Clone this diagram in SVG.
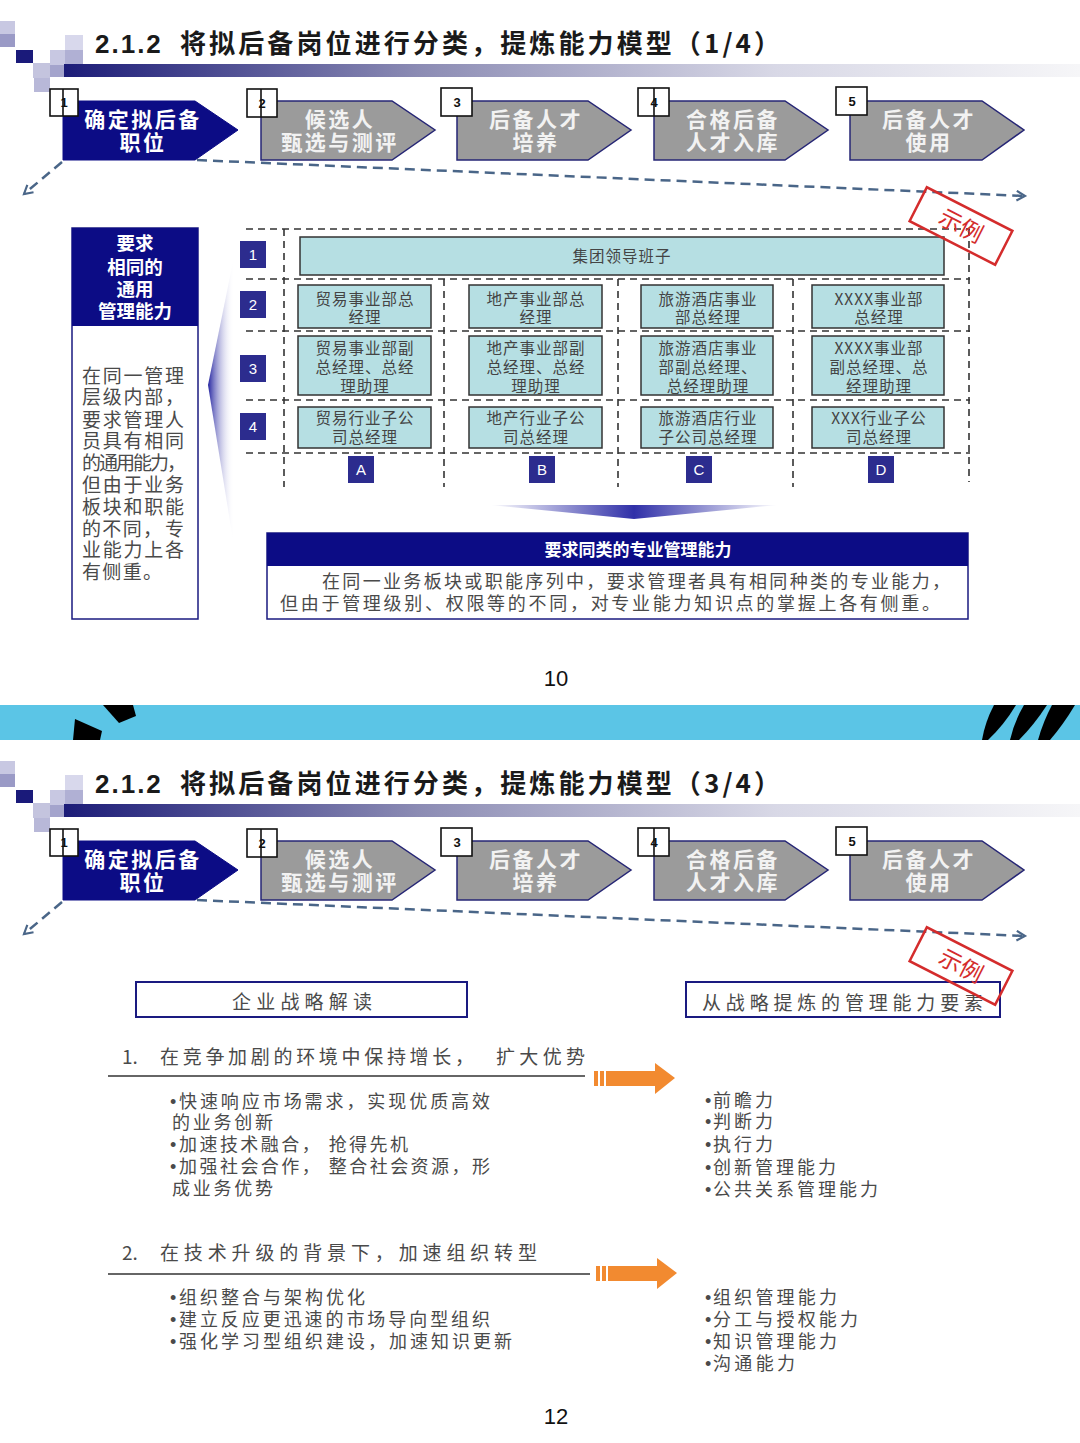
<svg xmlns="http://www.w3.org/2000/svg" width="1080" height="1443" viewBox="0 0 1080 1443">
<style>
.title{font-family:"Noto Sans CJK SC",sans-serif;font-weight:bold;font-size:26px;fill:#1a1a1a}
.title-n{font-family:"Liberation Sans",Arial,sans-serif;font-weight:bold;font-size:26px;fill:#1a1a1a;letter-spacing:2px}
.chev-n{fill:#0c0c85;stroke:#0c0c85;stroke-width:1}
.chev-g{fill:#9b9b9b;stroke:#262675;stroke-width:1.5}
.chev-t{font-family:"Noto Sans CJK SC",sans-serif;font-weight:bold;font-size:21px;fill:#ffffff;text-anchor:middle;letter-spacing:2.5px}
.chev-tg{font-family:"Noto Sans CJK SC",sans-serif;font-weight:bold;font-size:21px;fill:#f2f2f2;text-anchor:middle;letter-spacing:2.5px}
.nbox{fill:#ffffff;stroke:#111;stroke-width:1.6}
.nline{stroke:#111;stroke-width:1.6}
.ntxt{font-family:"Liberation Sans",Arial,sans-serif;font-weight:bold;font-size:13px;fill:#111;text-anchor:middle}
.dash{fill:none;stroke:#4a6688;stroke-width:2.5;stroke-dasharray:10 6}
.stamp-r{fill:none;stroke:#d42c2c;stroke-width:2.5}
.stamp-t{font-family:"Noto Sans CJK SC",sans-serif;font-size:23px;fill:#d42c2c;text-anchor:middle}
.grid{fill:none;stroke:#333;stroke-width:1.6;stroke-dasharray:7 5}
.cell{fill:#b6dfe3;stroke:#333;stroke-width:1.5}
.ct{font-family:"Noto Sans CJK SC",sans-serif;font-size:15.5px;fill:#444;text-anchor:middle;letter-spacing:1px}
.sq{fill:#2c2c8e}
.sqt{font-family:"Liberation Sans",Arial,sans-serif;font-size:15px;fill:#fff;text-anchor:middle}
.navy{fill:#0c0c85}
.hdr-t{font-family:"Noto Sans CJK SC",sans-serif;font-weight:bold;font-size:17px;fill:#fff;text-anchor:middle}
.hdr-l{font-family:"Noto Sans CJK SC",sans-serif;font-weight:bold;font-size:18.5px;fill:#fff;text-anchor:middle}
.body{font-family:"Noto Sans CJK SC",sans-serif;font-size:18px;fill:#4a4a4a}
.body19{font-family:"Noto Sans CJK SC",sans-serif;font-size:19px;fill:#4a4a4a}
.bul{font-family:"Liberation Sans",Arial,sans-serif;font-size:18px}
.pnum{font-family:"Liberation Sans",Arial,sans-serif;font-size:22px;fill:#111;text-anchor:middle}
.obox{fill:#fff;stroke:#1a1a80;stroke-width:2}
.orange{fill:#f28a30}
</style>
<defs>
<linearGradient id="barGrad" x1="0" y1="0" x2="1" y2="0">
<stop offset="0" stop-color="#1c1c78"/>
<stop offset="0.35" stop-color="#8c8cb4"/>
<stop offset="0.7" stop-color="#d8d8e6"/>
<stop offset="1" stop-color="#f6f6f8"/>
</linearGradient>
<linearGradient id="wedgeL" gradientUnits="userSpaceOnUse" x1="208" y1="0" x2="234" y2="0">
<stop offset="0" stop-color="#2424a0"/>
<stop offset="1" stop-color="#ffffff" stop-opacity="0"/>
</linearGradient>
<linearGradient id="wedgeD" x1="0" y1="0" x2="1" y2="0">
<stop offset="0" stop-color="#ffffff"/>
<stop offset="0.5" stop-color="#3030a8"/>
<stop offset="1" stop-color="#ffffff"/>
</linearGradient>
<marker id="openArrow" viewBox="0 0 10 10" refX="8" refY="5" markerWidth="12" markerHeight="12" markerUnits="userSpaceOnUse" orient="auto">
<path d="M1,1 L8,5 L1,9" fill="none" stroke="#4a6688" stroke-width="1.8"/>
</marker>
</defs>
<rect width="1080" height="1443" fill="#ffffff"/>

<!-- ===== SLIDE 1 HEADER ===== -->
<g id="s1-header">
<g id="s1-deco">
<rect x="0" y="21" width="15" height="13" fill="#c8c8e2"/>
<rect x="0" y="34" width="15" height="13" fill="#9a9ac6"/>
<rect x="16" y="50" width="17" height="13" fill="#1a1a7a"/>
<rect x="33" y="63" width="17" height="15" fill="#c4c4de"/>
<rect x="34" y="78" width="16" height="14" fill="#b8b8d8"/>
<rect x="50" y="50" width="15" height="15" fill="#c8c8e2"/>
<rect x="50" y="65" width="15" height="12" fill="#a4a4cc"/>
<rect x="65" y="35" width="18" height="15" fill="#d8d8ec"/>
<rect x="65" y="50" width="18" height="14" fill="#b0b0d4"/>
<rect x="64" y="64" width="1016" height="13" fill="url(#barGrad)"/>
</g>
<text class="title-n" x="95" y="53">2.1.2</text>
<text class="title" x="180" y="53" textLength="600" lengthAdjust="spacing">将拟后备岗位进行分类，提炼能力模型（1/4）</text>
<g id="s1-step1"><path class="chev-n" d="M63,101 H195 L238,130 L195,160 H63 Z"/>
<text class="chev-t"><tspan x="143" y="127">确定拟后备</tspan><tspan x="143" y="150">职位</tspan></text></g>
<g id="s1-step2"><path class="chev-g" d="M261,101 H392 L435,130 L392,160 H261 Z"/>
<text class="chev-tg"><tspan x="340" y="127">候选人</tspan><tspan x="340" y="150">甄选与测评</tspan></text></g>
<g id="s1-step3"><path class="chev-g" d="M457,101 H588 L631,130 L588,160 H457 Z"/>
<text class="chev-tg"><tspan x="536" y="127">后备人才</tspan><tspan x="536" y="150">培养</tspan></text></g>
<g id="s1-step4"><path class="chev-g" d="M654,101 H785 L828,130 L785,160 H654 Z"/>
<text class="chev-tg"><tspan x="733" y="127">合格后备</tspan><tspan x="733" y="150">人才入库</tspan></text></g>
<g id="s1-step5"><path class="chev-g" d="M850,101 H982 L1024,130 L982,160 H850 Z"/>
<text class="chev-tg"><tspan x="929" y="127">后备人才</tspan><tspan x="929" y="150">使用</tspan></text></g>
<g id="s1-num1"><rect class="nbox" x="50" y="89" width="28" height="27"/><line class="nline" x1="63" y1="89" x2="63" y2="116"/><text class="ntxt" x="64" y="107">1</text></g>
<g id="s1-num2"><rect class="nbox" x="247" y="89" width="30" height="28"/><line class="nline" x1="261" y1="89" x2="261" y2="117"/><text class="ntxt" x="262" y="108">2</text></g>
<g id="s1-num3"><rect class="nbox" x="441" y="88" width="31" height="28"/><text class="ntxt" x="457" y="107">3</text></g>
<g id="s1-num4"><rect class="nbox" x="638" y="88" width="31" height="28"/><line class="nline" x1="654" y1="88" x2="654" y2="116"/><text class="ntxt" x="654" y="107">4</text></g>
<g id="s1-num5"><rect class="nbox" x="836" y="87" width="31" height="28"/><text class="ntxt" x="852" y="106">5</text></g>
</g>
<g id="s1-connectors">
<path class="dash" d="M197,160 L1025,196" marker-end="url(#openArrow)"/>
<path class="dash" d="M62,162 L24,194" marker-end="url(#openArrow)"/>
</g>

<!-- ===== SLIDE 1 BODY ===== -->
<g id="s1-leftbox">
<rect x="72" y="228" width="126" height="391" fill="#fff" stroke="#1a1a80" stroke-width="1.5"/>
<rect class="navy" x="72" y="228" width="126" height="98"/>
<text class="hdr-l"><tspan x="135" y="250">要求</tspan><tspan x="135" y="274">相同的</tspan><tspan x="135" y="296">通用</tspan><tspan x="135" y="318">管理能力</tspan></text>
<text class="body19"><tspan x="82" y="383" textLength="102" lengthAdjust="spacing">在同一管理</tspan><tspan x="82" y="404" textLength="102" lengthAdjust="spacing">层级内部，</tspan><tspan x="82" y="427" textLength="102" lengthAdjust="spacing">要求管理人</tspan><tspan x="82" y="448" textLength="102" lengthAdjust="spacing">员具有相同</tspan><tspan x="82" y="470" textLength="104" lengthAdjust="spacing">的通用能力，</tspan><tspan x="82" y="492" textLength="102" lengthAdjust="spacing">但由于业务</tspan><tspan x="82" y="514" textLength="102" lengthAdjust="spacing">板块和职能</tspan><tspan x="82" y="536" textLength="80" lengthAdjust="spacing">的不同，</tspan><tspan x="165" y="536">专</tspan><tspan x="82" y="557" textLength="102" lengthAdjust="spacing">业能力上各</tspan><tspan x="82" y="579" textLength="80" lengthAdjust="spacing">有侧重。</tspan></text>
</g>
<polygon id="s1-wedge" points="233,262 208,385 233,540" fill="url(#wedgeL)"/>

<g id="s1-grid">
<line class="grid" x1="246" y1="229" x2="970" y2="229"/>
<line class="grid" x1="246" y1="279" x2="970" y2="279"/>
<line class="grid" x1="246" y1="331" x2="970" y2="331"/>
<line class="grid" x1="246" y1="400" x2="970" y2="400"/>
<line class="grid" x1="246" y1="453" x2="970" y2="453"/>
<line class="grid" x1="284" y1="229" x2="284" y2="487"/>
<line class="grid" x1="444" y1="279" x2="444" y2="487"/>
<line class="grid" x1="618" y1="279" x2="618" y2="487"/>
<line class="grid" x1="793" y1="279" x2="793" y2="487"/>
<line class="grid" x1="969" y1="229" x2="969" y2="482"/>
</g>
<g id="s1-rownums">
<g id="row1"><rect class="sq" x="240" y="241" width="26" height="27"/><text class="sqt" x="253" y="260">1</text></g>
<g id="row2"><rect class="sq" x="240" y="291" width="26" height="27"/><text class="sqt" x="253" y="310">2</text></g>
<g id="row3"><rect class="sq" x="240" y="355" width="26" height="27"/><text class="sqt" x="253" y="374">3</text></g>
<g id="row4"><rect class="sq" x="240" y="413" width="26" height="27"/><text class="sqt" x="253" y="432">4</text></g>
</g>
<g id="s1-colletters">
<g id="colA"><rect class="sq" x="348" y="456" width="26" height="27"/><text class="sqt" x="361" y="475">A</text></g>
<g id="colB"><rect class="sq" x="529" y="456" width="26" height="27"/><text class="sqt" x="542" y="475">B</text></g>
<g id="colC"><rect class="sq" x="686" y="456" width="26" height="27"/><text class="sqt" x="699" y="475">C</text></g>
<g id="colD"><rect class="sq" x="868" y="456" width="26" height="27"/><text class="sqt" x="881" y="475">D</text></g>
</g>
<g id="s1-leader"><rect class="cell" x="300" y="237" width="644" height="38"/><text class="ct" x="622" y="262">集团领导班子</text></g>
<g id="cellA2"><rect class="cell" x="298" y="285" width="133" height="43"/><text class="ct"><tspan x="365" y="305">贸易事业部总</tspan><tspan x="365" y="323">经理</tspan></text></g>
<g id="cellB2"><rect class="cell" x="469" y="285" width="133" height="43"/><text class="ct"><tspan x="536" y="305">地产事业部总</tspan><tspan x="536" y="323">经理</tspan></text></g>
<g id="cellC2"><rect class="cell" x="641" y="285" width="132" height="43"/><text class="ct"><tspan x="708" y="305">旅游酒店事业</tspan><tspan x="708" y="323">部总经理</tspan></text></g>
<g id="cellD2"><rect class="cell" x="812" y="285" width="132" height="43"/><text class="ct"><tspan x="879" y="305">XXXX事业部</tspan><tspan x="879" y="323">总经理</tspan></text></g>
<g id="cellA3"><rect class="cell" x="298" y="336" width="133" height="59"/><text class="ct"><tspan x="365" y="354">贸易事业部副</tspan><tspan x="365" y="373">总经理、总经</tspan><tspan x="365" y="392">理助理</tspan></text></g>
<g id="cellB3"><rect class="cell" x="469" y="336" width="133" height="59"/><text class="ct"><tspan x="536" y="354">地产事业部副</tspan><tspan x="536" y="373">总经理、总经</tspan><tspan x="536" y="392">理助理</tspan></text></g>
<g id="cellC3"><rect class="cell" x="641" y="336" width="132" height="59"/><text class="ct"><tspan x="708" y="354">旅游酒店事业</tspan><tspan x="708" y="373">部副总经理、</tspan><tspan x="708" y="392">总经理助理</tspan></text></g>
<g id="cellD3"><rect class="cell" x="812" y="336" width="132" height="59"/><text class="ct"><tspan x="879" y="354">XXXX事业部</tspan><tspan x="879" y="373">副总经理、总</tspan><tspan x="879" y="392">经理助理</tspan></text></g>
<g id="cellA4"><rect class="cell" x="298" y="407" width="133" height="41"/><text class="ct"><tspan x="365" y="424">贸易行业子公</tspan><tspan x="365" y="443">司总经理</tspan></text></g>
<g id="cellB4"><rect class="cell" x="469" y="407" width="133" height="41"/><text class="ct"><tspan x="536" y="424">地产行业子公</tspan><tspan x="536" y="443">司总经理</tspan></text></g>
<g id="cellC4"><rect class="cell" x="641" y="407" width="132" height="41"/><text class="ct"><tspan x="708" y="424">旅游酒店行业</tspan><tspan x="708" y="443">子公司总经理</tspan></text></g>
<g id="cellD4"><rect class="cell" x="812" y="407" width="132" height="41"/><text class="ct"><tspan x="879" y="424">XXX行业子公</tspan><tspan x="879" y="443">司总经理</tspan></text></g>

<g id="s1-stamp" transform="translate(961,226) rotate(27)">
<rect class="stamp-r" x="-48" y="-19" width="96" height="38"/>
<text class="stamp-t" x="0" y="8">示例</text>
</g>

<polygon id="s1-downwedge" points="490,505 778,505 634,519" fill="url(#wedgeD)"/>

<g id="s1-bottombox">
<rect x="267" y="533" width="701" height="86" fill="#fff" stroke="#1a1a80" stroke-width="1.5"/>
<rect class="navy" x="267" y="533" width="701" height="33"/>
<text class="hdr-t" x="638" y="556">要求同类的专业管理能力</text>
<text class="body"><tspan x="322" y="588" textLength="628" lengthAdjust="spacing">在同一业务板块或职能序列中，要求管理者具有相同种类的专业能力，</tspan><tspan x="280" y="610" textLength="660" lengthAdjust="spacing">但由于管理级别、权限等的不同，对专业能力知识点的掌握上各有侧重。</tspan></text>
</g>
<text class="pnum" x="556" y="686">10</text>

<!-- ===== DIVIDER BAND ===== -->
<g id="band">
<rect x="0" y="705" width="1080" height="35" fill="#5bc5e6"/>
<polygon points="103,705 133,705 136,716 119,723" fill="#000"/>
<polygon points="75,719 102,731 100,740 73,740" fill="#000"/>
<path d="M994,705 L1016,705 Q1004,725 988,740 L982,740 Q985,722 994,705 Z" fill="#000"/>
<path d="M1024,705 L1047,705 Q1034,725 1019,740 L1010,740 Q1014,722 1024,705 Z" fill="#000"/>
<path d="M1052,705 L1075,705 Q1063,725 1050,740 L1038,740 Q1043,722 1052,705 Z" fill="#000"/>
</g>

<!-- ===== SLIDE 2 HEADER ===== -->
<g id="s2-header" transform="translate(0,740)">
<g id="s2-deco">
<rect x="0" y="21" width="15" height="13" fill="#c8c8e2"/>
<rect x="0" y="34" width="15" height="13" fill="#9a9ac6"/>
<rect x="16" y="50" width="17" height="13" fill="#1a1a7a"/>
<rect x="33" y="63" width="17" height="15" fill="#c4c4de"/>
<rect x="34" y="78" width="16" height="14" fill="#b8b8d8"/>
<rect x="50" y="50" width="15" height="15" fill="#c8c8e2"/>
<rect x="50" y="65" width="15" height="12" fill="#a4a4cc"/>
<rect x="65" y="35" width="18" height="15" fill="#d8d8ec"/>
<rect x="65" y="50" width="18" height="14" fill="#b0b0d4"/>
<rect x="64" y="64" width="1016" height="13" fill="url(#barGrad)"/>
</g>
<text class="title-n" x="95" y="53">2.1.2</text>
<text class="title" x="180" y="53" textLength="600" lengthAdjust="spacing">将拟后备岗位进行分类，提炼能力模型（3/4）</text>
<g id="s2-step1"><path class="chev-n" d="M63,101 H195 L238,130 L195,160 H63 Z"/>
<text class="chev-t"><tspan x="143" y="127">确定拟后备</tspan><tspan x="143" y="150">职位</tspan></text></g>
<g id="s2-step2"><path class="chev-g" d="M261,101 H392 L435,130 L392,160 H261 Z"/>
<text class="chev-tg"><tspan x="340" y="127">候选人</tspan><tspan x="340" y="150">甄选与测评</tspan></text></g>
<g id="s2-step3"><path class="chev-g" d="M457,101 H588 L631,130 L588,160 H457 Z"/>
<text class="chev-tg"><tspan x="536" y="127">后备人才</tspan><tspan x="536" y="150">培养</tspan></text></g>
<g id="s2-step4"><path class="chev-g" d="M654,101 H785 L828,130 L785,160 H654 Z"/>
<text class="chev-tg"><tspan x="733" y="127">合格后备</tspan><tspan x="733" y="150">人才入库</tspan></text></g>
<g id="s2-step5"><path class="chev-g" d="M850,101 H982 L1024,130 L982,160 H850 Z"/>
<text class="chev-tg"><tspan x="929" y="127">后备人才</tspan><tspan x="929" y="150">使用</tspan></text></g>
<g id="s2-num1"><rect class="nbox" x="50" y="89" width="28" height="27"/><line class="nline" x1="63" y1="89" x2="63" y2="116"/><text class="ntxt" x="64" y="107">1</text></g>
<g id="s2-num2"><rect class="nbox" x="247" y="89" width="30" height="28"/><line class="nline" x1="261" y1="89" x2="261" y2="117"/><text class="ntxt" x="262" y="108">2</text></g>
<g id="s2-num3"><rect class="nbox" x="441" y="88" width="31" height="28"/><text class="ntxt" x="457" y="107">3</text></g>
<g id="s2-num4"><rect class="nbox" x="638" y="88" width="31" height="28"/><line class="nline" x1="654" y1="88" x2="654" y2="116"/><text class="ntxt" x="654" y="107">4</text></g>
<g id="s2-num5"><rect class="nbox" x="836" y="87" width="31" height="28"/><text class="ntxt" x="852" y="106">5</text></g>
</g>
<g id="s2-connectors" transform="translate(0,740)">
<path class="dash" d="M197,160 L1025,196" marker-end="url(#openArrow)"/>
<path class="dash" d="M62,162 L24,194" marker-end="url(#openArrow)"/>
</g>

<!-- ===== SLIDE 2 BODY ===== -->
<g id="s2-box-left"><rect class="obox" x="136" y="982" width="331" height="35"/>
<text class="body19" x="232" y="1009" textLength="140" lengthAdjust="spacing">企业战略解读</text></g>
<g id="s2-box-right"><rect class="obox" x="686" y="982" width="314" height="35"/>
<text class="body19" x="702" y="1010" textLength="281" lengthAdjust="spacing">从战略提炼的管理能力要素</text></g>
<g id="s2-stamp" transform="translate(961,966) rotate(27)">
<rect class="stamp-r" x="-48" y="-19" width="96" height="38"/>
<text class="stamp-t" x="0" y="8">示例</text>
</g>

<g id="s2-sec1">
<text class="body19"><tspan x="122" y="1064">1.</tspan><tspan x="160" y="1064" textLength="314" lengthAdjust="spacing">在竞争加剧的环境中保持增长，</tspan><tspan x="496" y="1064" textLength="89" lengthAdjust="spacing">扩大优势</tspan></text>
<line x1="108" y1="1076" x2="585" y2="1076" stroke="#333" stroke-width="1.5"/>
<text class="body"><tspan class="bul" x="170" y="1108">•</tspan><tspan x="179" y="1108" textLength="311" lengthAdjust="spacing">快速响应市场需求，实现优质高效</tspan><tspan x="172" y="1129" textLength="101" lengthAdjust="spacing">的业务创新</tspan><tspan class="bul" x="170" y="1151">•</tspan><tspan x="179" y="1151" textLength="229" lengthAdjust="spacing">加速技术融合，  抢得先机</tspan><tspan class="bul" x="170" y="1173">•</tspan><tspan x="179" y="1173" textLength="311" lengthAdjust="spacing">加强社会合作，  整合社会资源，形</tspan><tspan x="172" y="1195" textLength="101" lengthAdjust="spacing">成业务优势</tspan></text>
</g>
<g id="s2-arrow1">
<rect class="orange" x="594" y="1071" width="4" height="15"/>
<rect class="orange" x="600" y="1071" width="4" height="15"/>
<path class="orange" d="M606,1071 H655 V1063 L675,1078 L655,1094 V1086 H606 Z"/>
</g>
<g id="s2-res1">
<text class="body"><tspan class="bul" x="705" y="1107">•</tspan><tspan x="713" y="1107" textLength="60" lengthAdjust="spacing">前瞻力</tspan><tspan class="bul" x="705" y="1128">•</tspan><tspan x="713" y="1128" textLength="60" lengthAdjust="spacing">判断力</tspan><tspan class="bul" x="705" y="1151">•</tspan><tspan x="713" y="1151" textLength="60" lengthAdjust="spacing">执行力</tspan><tspan class="bul" x="705" y="1174">•</tspan><tspan x="713" y="1174" textLength="123" lengthAdjust="spacing">创新管理能力</tspan><tspan class="bul" x="705" y="1196">•</tspan><tspan x="713" y="1196" textLength="165" lengthAdjust="spacing">公共关系管理能力</tspan></text>
</g>

<g id="s2-sec2">
<text class="body19"><tspan x="122" y="1260">2.</tspan><tspan x="160" y="1260" textLength="377" lengthAdjust="spacing">在技术升级的背景下，加速组织转型</tspan></text>
<line x1="108" y1="1274" x2="590" y2="1274" stroke="#333" stroke-width="1.5"/>
<text class="body"><tspan class="bul" x="170" y="1304">•</tspan><tspan x="179" y="1304" textLength="186" lengthAdjust="spacing">组织整合与架构优化</tspan><tspan class="bul" x="170" y="1326">•</tspan><tspan x="179" y="1326" textLength="311" lengthAdjust="spacing">建立反应更迅速的市场导向型组织</tspan><tspan class="bul" x="170" y="1348">•</tspan><tspan x="179" y="1348" textLength="333" lengthAdjust="spacing">强化学习型组织建设，加速知识更新</tspan></text>
</g>
<g id="s2-arrow2">
<rect class="orange" x="596" y="1266" width="4" height="15"/>
<rect class="orange" x="602" y="1266" width="4" height="15"/>
<path class="orange" d="M608,1266 H657 V1258 L677,1273 L657,1289 V1281 H608 Z"/>
</g>
<g id="s2-res2">
<text class="body"><tspan class="bul" x="705" y="1304">•</tspan><tspan x="713" y="1304" textLength="124" lengthAdjust="spacing">组织管理能力</tspan><tspan class="bul" x="705" y="1326">•</tspan><tspan x="713" y="1326" textLength="145" lengthAdjust="spacing">分工与授权能力</tspan><tspan class="bul" x="705" y="1348">•</tspan><tspan x="713" y="1348" textLength="124" lengthAdjust="spacing">知识管理能力</tspan><tspan class="bul" x="705" y="1370">•</tspan><tspan x="713" y="1370" textLength="82" lengthAdjust="spacing">沟通能力</tspan></text>
</g>
<text class="pnum" x="556" y="1424">12</text>
</svg>
